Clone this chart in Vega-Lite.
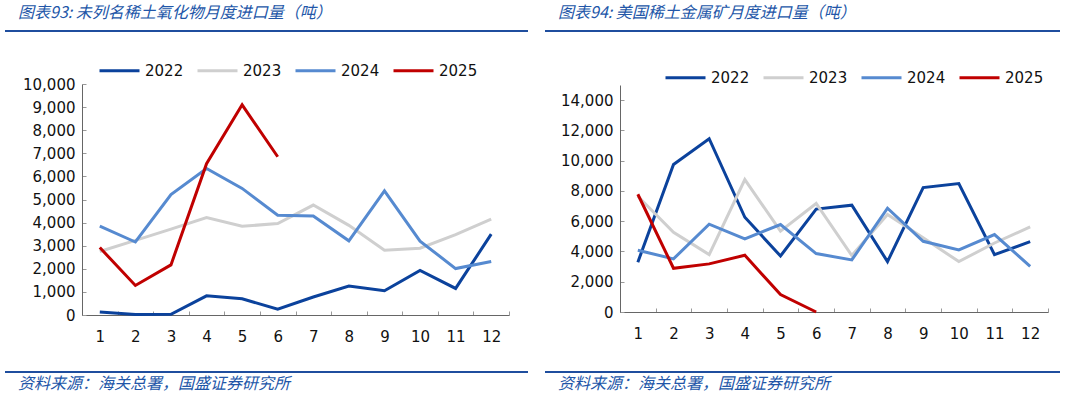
{
  "$schema": "https://vega.github.io/schema/vega-lite/v6.json",
  "padding": 5,
  "background": "white",
  "config": {
    "view": {"stroke": null},
    "font": "DejaVu Sans",
    "axis": {"labelFont": "DejaVu Sans", "labelFontSize": 15, "labelColor": "#111111", "domainColor": "#666666", "tickColor": "#999999", "domainWidth": 1}
  },
  "datasets": {
    "left": [
      {"year": "2022", "month": 1, "value": 130}, {"year": "2022", "month": 2, "value": 20}, {"year": "2022", "month": 3, "value": 30},
      {"year": "2022", "month": 4, "value": 830}, {"year": "2022", "month": 5, "value": 700}, {"year": "2022", "month": 6, "value": 250},
      {"year": "2022", "month": 7, "value": 780}, {"year": "2022", "month": 8, "value": 1250}, {"year": "2022", "month": 9, "value": 1050},
      {"year": "2022", "month": 10, "value": 1930}, {"year": "2022", "month": 11, "value": 1150}, {"year": "2022", "month": 12, "value": 3500},
      {"year": "2023", "month": 1, "value": 2750}, {"year": "2023", "month": 2, "value": 3230}, {"year": "2023", "month": 3, "value": 3720},
      {"year": "2023", "month": 4, "value": 4220}, {"year": "2023", "month": 5, "value": 3840}, {"year": "2023", "month": 6, "value": 3960},
      {"year": "2023", "month": 7, "value": 4760}, {"year": "2023", "month": 8, "value": 3880}, {"year": "2023", "month": 9, "value": 2800},
      {"year": "2023", "month": 10, "value": 2890}, {"year": "2023", "month": 11, "value": 3480}, {"year": "2023", "month": 12, "value": 4150},
      {"year": "2024", "month": 1, "value": 3850}, {"year": "2024", "month": 2, "value": 3160}, {"year": "2024", "month": 3, "value": 5210},
      {"year": "2024", "month": 4, "value": 6340}, {"year": "2024", "month": 5, "value": 5480}, {"year": "2024", "month": 6, "value": 4320},
      {"year": "2024", "month": 7, "value": 4290}, {"year": "2024", "month": 8, "value": 3210}, {"year": "2024", "month": 9, "value": 5370},
      {"year": "2024", "month": 10, "value": 3200}, {"year": "2024", "month": 11, "value": 2010}, {"year": "2024", "month": 12, "value": 2320},
      {"year": "2025", "month": 1, "value": 2920}, {"year": "2025", "month": 2, "value": 1280}, {"year": "2025", "month": 3, "value": 2170},
      {"year": "2025", "month": 4, "value": 6550}, {"year": "2025", "month": 5, "value": 9100}, {"year": "2025", "month": 6, "value": 6850}
    ],
    "right": [
      {"year": "2022", "month": 1, "value": 3290}, {"year": "2022", "month": 2, "value": 9750}, {"year": "2022", "month": 3, "value": 11450},
      {"year": "2022", "month": 4, "value": 6260}, {"year": "2022", "month": 5, "value": 3700}, {"year": "2022", "month": 6, "value": 6800},
      {"year": "2022", "month": 7, "value": 7060}, {"year": "2022", "month": 8, "value": 3330}, {"year": "2022", "month": 9, "value": 8220},
      {"year": "2022", "month": 10, "value": 8490}, {"year": "2022", "month": 11, "value": 3790}, {"year": "2022", "month": 12, "value": 4650},
      {"year": "2023", "month": 1, "value": 7650}, {"year": "2023", "month": 2, "value": 5270}, {"year": "2023", "month": 3, "value": 3790},
      {"year": "2023", "month": 4, "value": 8750}, {"year": "2023", "month": 5, "value": 5340}, {"year": "2023", "month": 6, "value": 7170},
      {"year": "2023", "month": 7, "value": 3730}, {"year": "2023", "month": 8, "value": 6440}, {"year": "2023", "month": 9, "value": 4900},
      {"year": "2023", "month": 10, "value": 3330}, {"year": "2023", "month": 11, "value": 4560}, {"year": "2023", "month": 12, "value": 5620},
      {"year": "2024", "month": 1, "value": 4080}, {"year": "2024", "month": 2, "value": 3510}, {"year": "2024", "month": 3, "value": 5800},
      {"year": "2024", "month": 4, "value": 4830}, {"year": "2024", "month": 5, "value": 5780}, {"year": "2024", "month": 6, "value": 3860},
      {"year": "2024", "month": 7, "value": 3440}, {"year": "2024", "month": 8, "value": 6860}, {"year": "2024", "month": 9, "value": 4670},
      {"year": "2024", "month": 10, "value": 4100}, {"year": "2024", "month": 11, "value": 5120}, {"year": "2024", "month": 12, "value": 3020},
      {"year": "2025", "month": 1, "value": 7780}, {"year": "2025", "month": 2, "value": 2890}, {"year": "2025", "month": 3, "value": 3180},
      {"year": "2025", "month": 4, "value": 3750}, {"year": "2025", "month": 5, "value": 1150}, {"year": "2025", "month": 6, "value": 0}
    ]
  },
  "spacing": 17,
  "resolve": {"scale": {"color": "independent", "x": "independent", "y": "independent"}, "legend": {"color": "independent"}},
  "hconcat": [
    {
      "spacing": 27,
      "resolve": {"scale": {"color": "independent"}, "legend": {"color": "independent"}},
      "vconcat": [
        {
          "data": {"values": []},
          "mark": "point",
          "encoding": {},
          "width": 523,
          "height": 2,
          "view": {"fill": "#1f4e9e", "stroke": null},
          "title": {"text": "图表93: 未列名稀土氧化物月度进口量（吨）", "anchor": "start", "dx": 13, "offset": 9, "font": "Noto Sans CJK SC", "fontStyle": "italic", "fontWeight": "normal", "fontSize": 16, "color": "#2256a8"}
        },
        {
          "data": {"name": "left"},
          "width": 504,
          "height": 231,
          "mark": {"type": "line", "strokeWidth": 3},
          "encoding": {
            "x": {"field": "month", "type": "ordinal", "bandPosition": 0.5,
              "scale": {"type": "band", "paddingInner": 0, "paddingOuter": 0, "range": [77, 504]},
              "axis": {"title": null, "labelAngle": 0, "tickBand": "extent", "tickSize": -4, "labelPadding": 18}},
            "y": {"field": "value", "type": "quantitative",
              "scale": {"domain": [0, 10000], "nice": false},
              "axis": {"title": null, "offset": -77, "values": [0, 1000, 2000, 3000, 4000, 5000, 6000, 7000, 8000, 9000, 10000], "format": ",.0f", "grid": false, "ticks": true, "tickSize": -4, "labelPadding": 11}},
            "color": {"field": "year", "type": "nominal",
              "scale": {"domain": ["2022", "2023", "2024", "2025"], "range": ["#0b429c", "#cfcfcf", "#568ad0", "#c00000"]},
              "legend": {"title": null, "orient": "none", "legendX": 103, "legendY": -25, "padding": 4, "direction": "horizontal", "symbolType": "M-4,0H4", "symbolSize": 100, "symbolStrokeWidth": 3, "labelFontSize": 15, "labelFont": "DejaVu Sans", "labelColor": "#111111", "labelOffset": 18, "columnPadding": 7}}
          }
        },
        {
          "data": {"values": []},
          "mark": "point",
          "encoding": {},
          "width": 523,
          "height": 2,
          "view": {"fill": "#1f4e9e", "stroke": null},
          "title": {"text": "资料来源：海关总署，国盛证券研究所", "orient": "bottom", "anchor": "start", "dx": 13, "offset": 3, "font": "Noto Sans CJK SC", "fontStyle": "italic", "fontWeight": "normal", "fontSize": 16, "color": "#2256a8"}
        }
      ]
    },
    {
      "spacing": 30,
      "resolve": {"scale": {"color": "independent"}, "legend": {"color": "independent"}},
      "vconcat": [
        {
          "data": {"values": []},
          "mark": "point",
          "encoding": {},
          "width": 515,
          "height": 2,
          "view": {"fill": "#1f4e9e", "stroke": null},
          "title": {"text": "图表94: 美国稀土金属矿月度进口量（吨）", "anchor": "start", "dx": 13, "offset": 9, "font": "Noto Sans CJK SC", "fontStyle": "italic", "fontWeight": "normal", "fontSize": 16, "color": "#2256a8"}
        },
        {
          "data": {"name": "right"},
          "width": 503,
          "height": 227,
          "mark": {"type": "line", "strokeWidth": 3},
          "encoding": {
            "x": {"field": "month", "type": "ordinal", "bandPosition": 0.5,
              "scale": {"type": "band", "paddingInner": 0, "paddingOuter": 0, "range": [75, 503]},
              "axis": {"title": null, "labelAngle": 0, "tickBand": "extent", "tickSize": -4, "labelPadding": 18}},
            "y": {"field": "value", "type": "quantitative",
              "scale": {"domain": [0, 15000], "nice": false},
              "axis": {"title": null, "offset": -75, "values": [0, 2000, 4000, 6000, 8000, 10000, 12000, 14000], "format": ",.0f", "grid": false, "ticks": true, "tickSize": -4, "labelPadding": 11}},
            "color": {"field": "year", "type": "nominal",
              "scale": {"domain": ["2022", "2023", "2024", "2025"], "range": ["#0b429c", "#cfcfcf", "#568ad0", "#c00000"]},
              "legend": {"title": null, "orient": "none", "legendX": 125, "legendY": -23, "padding": 8, "direction": "horizontal", "symbolType": "M-4,0H4", "symbolSize": 100, "symbolStrokeWidth": 3, "labelFontSize": 15, "labelFont": "DejaVu Sans", "labelColor": "#111111", "labelOffset": 18, "columnPadding": 7}}
          }
        },
        {
          "data": {"values": []},
          "mark": "point",
          "encoding": {},
          "width": 515,
          "height": 2,
          "view": {"fill": "#1f4e9e", "stroke": null},
          "title": {"text": "资料来源：海关总署，国盛证券研究所", "orient": "bottom", "anchor": "start", "dx": 13, "offset": 3, "font": "Noto Sans CJK SC", "fontStyle": "italic", "fontWeight": "normal", "fontSize": 16, "color": "#2256a8"}
        }
      ]
    }
  ]
}
